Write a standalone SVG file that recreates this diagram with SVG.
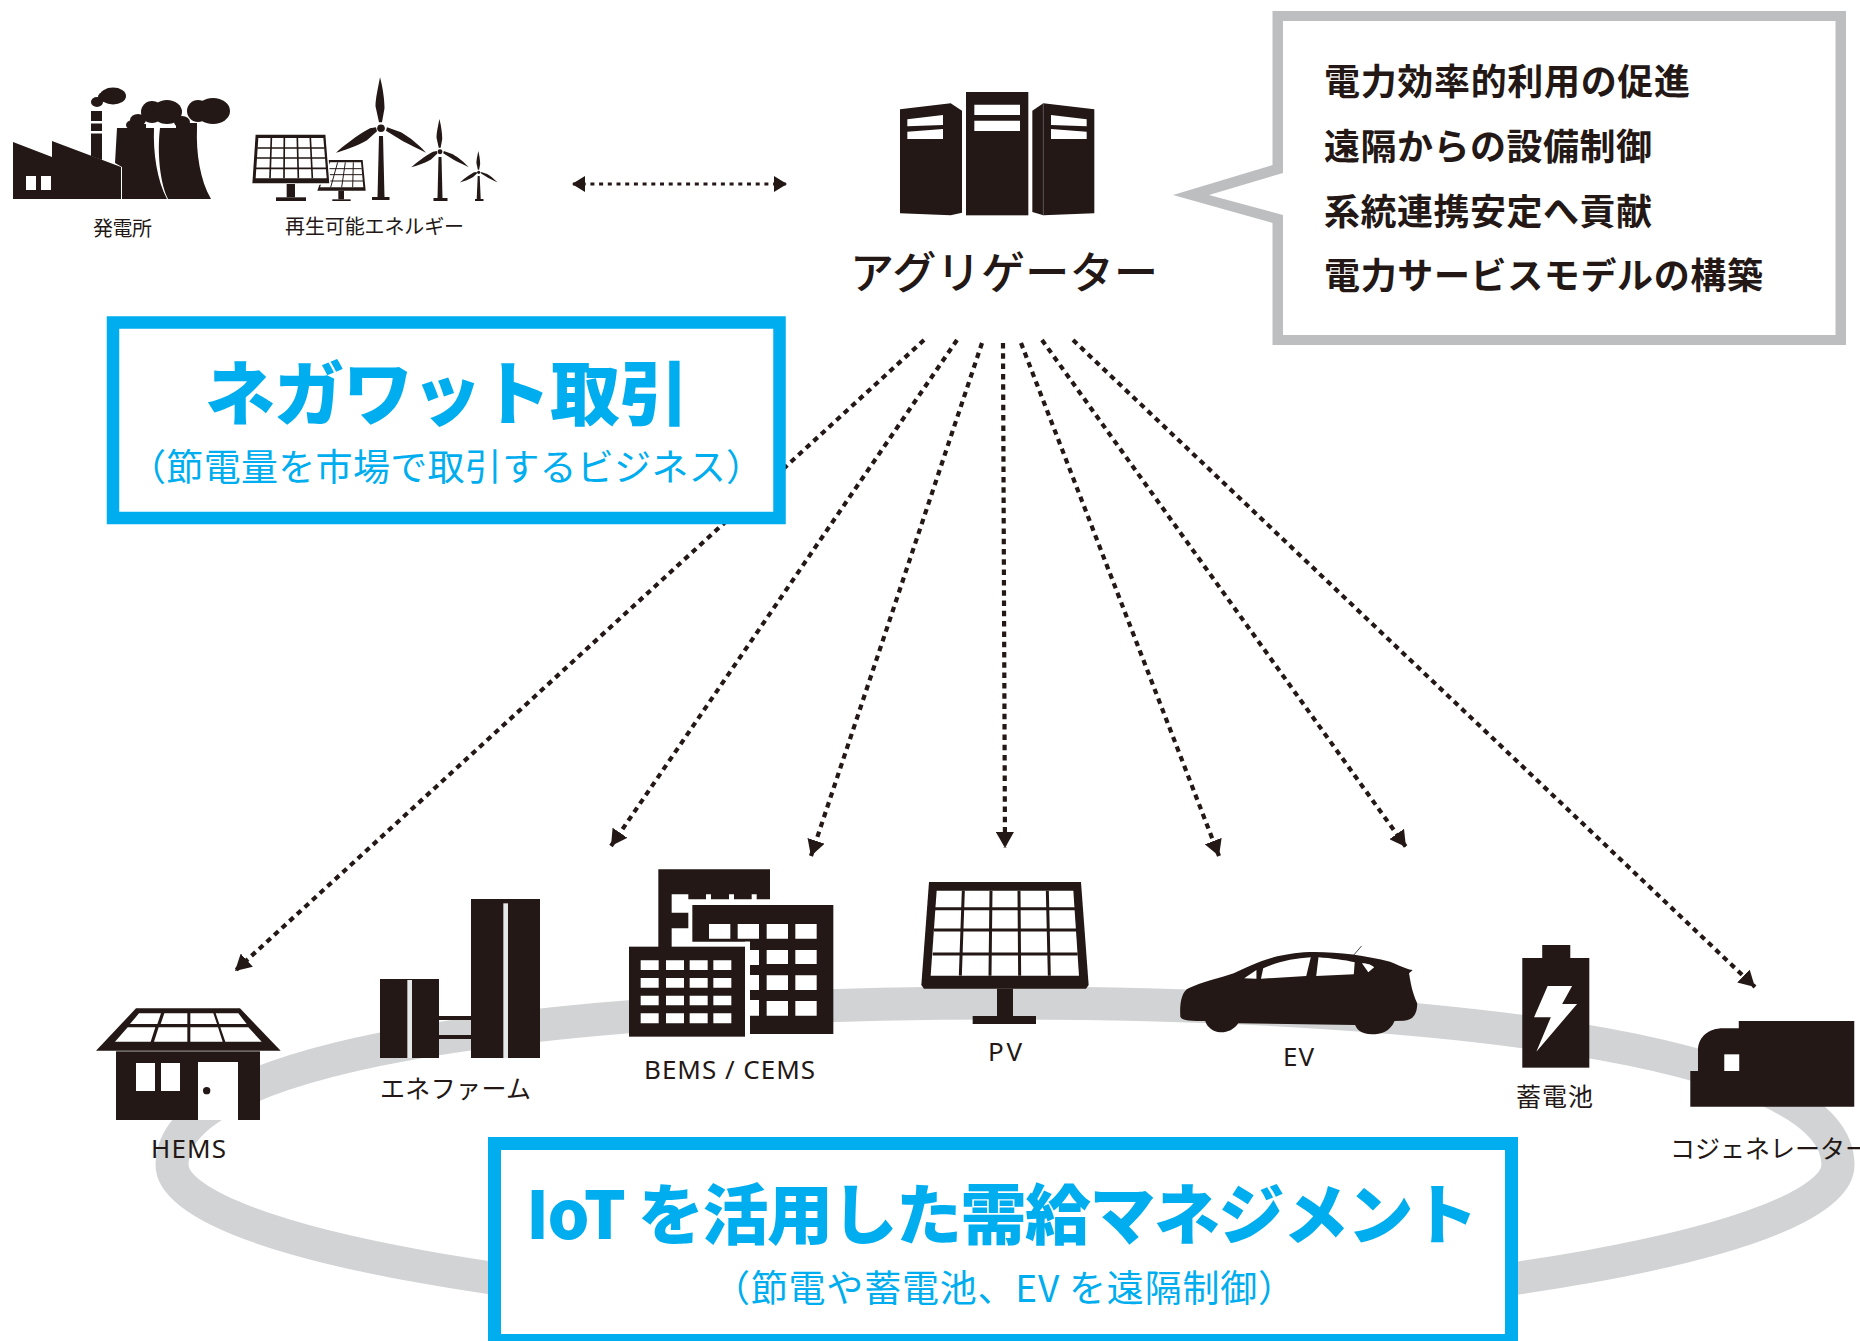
<svg xmlns="http://www.w3.org/2000/svg" xmlns:xlink="http://www.w3.org/1999/xlink" width="1860" height="1341" viewBox="0 0 1860 1341">
<style>
text{font-family:"Noto Sans CJK JP","Noto Sans",sans-serif;fill:#231815}
.lat{font-family:"Noto Sans","Noto Sans CJK JP",sans-serif;font-size:26px}
.lab{font-size:20px}
.lab2{font-size:25px}
.call{font-size:36px;font-weight:700}
.blue{fill:#00aeef}
.h1{font-size:70px;font-weight:900}
.h2{font-size:37px}
.d{fill:#231815}
.w{fill:#fff}
.conn{fill:none;stroke:#231815;stroke-width:4.2;stroke-dasharray:5.500 4.800;marker-end:url(#ah)}
.gl{fill:none;stroke:#231815}
.box{fill:#fff;stroke:#00aeef}
</style>
<defs>
<marker id="ah" markerUnits="userSpaceOnUse" markerWidth="16" markerHeight="18" viewBox="0 0 16 18" refX="16" refY="9" orient="auto"><path d="M0,0L16,9L0,18Z" fill="#231815"/></marker>
<marker id="ah2" markerUnits="userSpaceOnUse" markerWidth="13" markerHeight="16" viewBox="0 0 13 16" refX="13" refY="8" orient="auto-start-reverse"><path d="M0,0L13,8L0,16Z" fill="#231815"/></marker>
<g id="blades">
<path class="d" d="M-1,-51C2,-40 3.500,-28 3.500,-20L1,-6L-2,-6L-5.500,-22C-5.500,-30 -3,-40 -1,-51Z"/>
<path class="d" d="M-45,24.400C-38,18 -24,7 -11,0L-5,-1L-4,3L-14,12C-25,18 -36,22 -45,24.400Z"/>
<path class="d" d="M45,24.400C36,15 30,10 20,4L6,-1L5,2.500L22,13C30,17 38,21 45,24.400Z"/>
<circle r="3.800" class="d"/>
</g>
</defs>
<rect width="1860" height="1341" fill="#fff"/>
<path id="ring" fill="none" stroke="#d1d3d4" stroke-width="33" d="M1005,1003C600,1003 172,1045 172,1165C172,1240 560,1312 1005,1312C1450,1312 1838,1240 1838,1165C1838,1045 1410,1003 1005,1003Z"/>
<g id="connectors">
<path class="conn" d="M924,340L235,971"/>
<path class="conn" d="M957,340L611,846"/>
<path class="conn" d="M982,343L811,856"/>
<path class="conn" d="M1003,343L1005,848"/>
<path class="conn" d="M1021,343L1219,856"/>
<path class="conn" d="M1042,340L1406,847"/>
<path class="conn" d="M1073,340L1755,987"/>
<path d="M572,184L787,184" fill="none" stroke="#231815" stroke-width="3" stroke-dasharray="4 4.700" stroke-dashoffset="-1" marker-start="url(#ah2)" marker-end="url(#ah2)"/>
</g>
<g id="plant">
<path class="d" d="M13,142L52,157L52,141L121,167L121,199L13,199Z"/>
<rect class="w" x="26" y="176" width="10" height="14"/><rect class="w" x="41" y="176" width="10" height="14"/>
<path class="d" d="M91,111H102V160L91,156Z"/>
<rect class="w" x="91" y="121" width="11" height="2.500"/><rect class="w" x="91" y="131" width="11" height="2.500"/>
<path class="d" d="M117,128H154C153,153 157,180 167,199H122V167L115,163Z"/>
<path class="d" d="M160,128H197C196,153 200,180 211,199H168C160,183 157,153 160,128Z"/>
<ellipse class="d" cx="113" cy="96" rx="13" ry="8.500"/><ellipse class="d" cx="104" cy="97" rx="6" ry="5"/><ellipse class="d" cx="97" cy="102" rx="6" ry="5"/>
<ellipse class="d" cx="152" cy="112" rx="11" ry="11"/><ellipse class="d" cx="167" cy="112" rx="15" ry="12"/><ellipse class="d" cx="138" cy="120" rx="8" ry="6"/><ellipse class="d" cx="133" cy="125" rx="7" ry="5"/>
<rect class="d" x="128" y="124" width="18" height="5"/>
<ellipse class="d" cx="198" cy="111" rx="11" ry="11"/><ellipse class="d" cx="213" cy="111" rx="17" ry="13"/><ellipse class="d" cx="182" cy="122" rx="8" ry="6"/>
<rect class="d" x="176" y="123" width="21" height="6"/>
<text class="lab" x="93" y="236" textLength="59">発電所</text>
</g>
<g id="renewable">
<g transform="translate(0,60) scale(.33333)">
<path class="d" d="M985,300H1088L1097,392H952Z"/>
<path class="w" d="M990,307H1083L1090,382H960Z"/>
<path class="gl" stroke-width="3" d="M1013,307L992,382M1036,307L1025,382M1060,307L1058,382M970,326H1085M965,344H1087M962,363H1089"/>
<rect class="d" x="1015" y="392" width="17" height="26"/><rect class="d" x="997" y="418" width="55" height="5"/>
<path class="d" stroke="#fff" stroke-width="4" d="M765,222H978L990,372H755Z"/>
<path class="w" d="M775,234H970L980,355H767Z"/>
<path class="gl" stroke-width="5" d="M814,234L810,355M853,234L852,355M892,234L895,355M931,234L937,355M772,264H973M770,294H975M768,325H978"/>
<rect class="d" x="860" y="372" width="25" height="40"/><rect class="d" x="828" y="412" width="90" height="11"/>
</g>
<circle cx="381" cy="128.300" r="5.500" class="w"/>
<use xlink:href="#blades" href="#blades" transform="translate(381,128.300)"/>
<path class="d" d="M379,136H383L384.500,197H377.500Z"/><rect class="d" x="372" y="197" width="17.500" height="3"/>
<use xlink:href="#blades" href="#blades" transform="translate(440,151.700) scale(.64)"/>
<path class="d" d="M438.500,157H441.500L442.500,198H437.500Z"/><rect class="d" x="433.500" y="198" width="14" height="3"/>
<use xlink:href="#blades" href="#blades" transform="translate(478.700,172.300) scale(.42)"/>
<path class="d" d="M477.700,176H479.700L480.700,199H476.700Z"/><rect class="d" x="475" y="199" width="8.500" height="2"/>
<text class="lab" x="285" y="234" textLength="179">再生可能エネルギー</text>
</g>
<g id="aggregator">
<g transform="translate(860,60) scale(.33333)">
<path class="d" d="M120,148L272,130L306,152V458L272,466L120,460Z"/>
<path class="w" d="M142,178L249,165V195L142,199ZM142,215L249,207V237H142Z"/>
<rect class="d" x="318" y="96" width="187" height="370"/>
<path class="w" d="M343,134H480V165H343ZM343,182H480V213H343Z"/>
<path class="d" d="M517,152L550,130L703,148V460L550,466L517,456Z"/>
<path class="w" d="M573,165L680,178V199L573,195ZM573,207L680,215V237H573Z"/>
<path d="M550,130V466" stroke="#777" stroke-width="2" fill="none"/>
</g>
<text x="850" y="289" font-size="44" font-weight="500" textLength="308">アグリゲーター</text>
</g>
<g id="callout">
<path d="M1272.500,11H1846V345H1272.500V223L1173,195L1272.500,165Z" fill="#bcbec0"/>
<path class="w" d="M1283,21H1835.500V335H1283V215L1209,195L1283,173Z"/>
<text class="call" x="1324" y="95" textLength="366">電力効率的利用の促進</text>
<text class="call" x="1324" y="160" textLength="328">遠隔からの設備制御</text>
<text class="call" x="1324" y="225" textLength="328">系統連携安定へ貢献</text>
<text class="call" x="1324" y="289" textLength="439">電力サービスモデルの構築</text>
</g>
<g id="negawatt">
<rect class="box" stroke-width="12.500" x="113" y="322.500" width="666.500" height="195.500"/>
<text class="blue h1" x="205" y="420" textLength="484">ネガワット取引</text>
<text class="blue h2" x="129" y="481" textLength="634">（節電量を市場で取引するビジネス）</text>
</g>
<g id="hems" transform="translate(80,880) scale(.33333)">
<path class="d" d="M168,385H480L602,512H48Z"/>
<path class="w" d="M177,400H243L232,432H150ZM253,400H322V432H242ZM331,400H400L411,432H331ZM407,400H475L500,432H418ZM143,442H226L212,485H105ZM236,442H322V485H222ZM331,442H414L428,485H331ZM421,442H505L545,485H436Z"/>
<rect class="d" x="108" y="514" width="432" height="206"/>
<rect class="w" x="354" y="546" width="120" height="174"/>
<rect class="w" x="168" y="549" width="57" height="84"/><rect class="w" x="243" y="549" width="57" height="84"/>
<circle class="d" cx="380" cy="632" r="11"/>
</g>
<text class="lat" x="151" y="1158" textLength="75">HEMS</text>
<g id="enefarm">
<g transform="translate(80,880) scale(.33333)">
<rect class="d" x="900" y="297" width="177" height="237"/>
<rect x="982" y="300" width="14" height="234" fill="#e6e7e8"/>
<rect class="d" x="1077" y="408" width="96" height="12"/><rect class="d" x="1077" y="465" width="96" height="12"/>
<rect class="d" x="1173" y="57" width="207" height="477"/>
<rect x="1270" y="70" width="14" height="464" fill="#e6e7e8"/>
</g>
<text class="lab2" x="380" y="1098" textLength="151">エネファーム</text>
</g>
<g id="bems">
<g transform="translate(600,850) scale(.33333)">
<path class="d" d="M175,58H510V148H470V133H455V148H402V133H387V148H333V133H318V148H265V133H215V188H265V235H215V292H175Z"/>
<path class="d" d="M277,165H700V552H450V275H277Z"/>
<path class="w" d="M327,222H391V266H327ZM413,222H477V266H413ZM500,222H564V266H500ZM586,222H650V266H586ZM500,300H564V342H500ZM586,300H650V342H586ZM500,376H564V420H500ZM586,376H650V420H586ZM500,453H564V497H500ZM586,453H650V497H586ZM450,300H477V345H450ZM450,375H477V420H450ZM450,450H477V497H450Z"/>
<rect class="w" x="435" y="275" width="15" height="285"/>
<rect class="d" x="87" y="290" width="348" height="270"/>
<path class="w" d="M122,331H176V360H122ZM198,331H252V360H198ZM269,331H323V360H269ZM340,331H394V360H340ZM122,384H176V413H122ZM198,384H252V413H198ZM269,384H323V413H269ZM340,384H394V413H340ZM122,437H176V466H122ZM198,437H252V466H198ZM269,437H323V466H269ZM340,437H394V466H340ZM122,490H176V520H122ZM198,490H252V520H198ZM269,490H323V520H269ZM340,490H394V520H340Z"/>
</g>
<text class="lat" x="644" y="1079" textLength="171">BEMS / CEMS</text>
</g>
<g id="pv">
<g transform="translate(600,850) scale(.33333)">
<path class="d" d="M987,96H1443L1466,405L1458,416H972L964,405Z"/>
<path class="w" d="M1010,122H1420L1437,377H992Z"/>
<path class="gl" stroke-width="9" d="M1090,122L1081,377M1173,122L1170,377M1257,122L1259,377M1342,122L1348,377M1005,176H1425M1002,240H1430M998,312H1433"/>
<rect class="d" x="1191" y="416" width="48" height="82"/><rect class="d" x="1118" y="498" width="190" height="24"/>
</g>
<text class="lat" x="988" y="1061" textLength="34">PV</text>
</g>
<g id="ev">
<g transform="translate(1150,920) scale(.4529,.33333)">
<path d="M450,105L467,78" stroke="#231815" stroke-width="2" fill="none"/>
<path class="d" d="M67,290C65,250 70,215 85,205C110,188 160,172 185,160C225,135 265,105 340,97C400,93 470,105 530,125C550,135 560,145 580,150L572,160C575,185 578,215 590,250C590,285 580,300 560,302L540,303C530,335 510,343 490,343C465,343 455,325 453,315L195,310C185,330 170,338 155,337C140,337 125,320 122,303C95,303 70,303 67,290Z"/>
<path class="w" d="M208,175L235,150V176ZM245,176L250,145C280,125 320,115 355,112L345,168ZM372,112C400,115 430,120 452,127L450,163L367,168ZM468,130C480,130 490,135 495,142L482,157Z"/>
</g>
<text class="lat" x="1283" y="1066" textLength="31">EV</text>
</g>
<g id="battery">
<g transform="translate(1150,920) scale(.4529,.33333)">
<rect class="d" x="866" y="75" width="62" height="40"/><rect class="d" x="822" y="114" width="148" height="329"/>
<path class="w" d="M878,198H932L910,252H943L853,395L885,292H848Z"/>
</g>
<text class="lab2" x="1516" y="1106" textLength="77">蓄電池</text>
</g>
<g id="cogen">
<g transform="translate(1150,920) scale(.4529,.33333)">
<path class="d" d="M1300,303H1555V560H1193V453H1210V390C1210,350 1235,325 1265,325H1300Z"/>
<rect class="w" x="1268" y="403" width="33" height="50"/>
</g>
<text class="lab2" x="1670" y="1158">コジェネレーター</text>
</g>
<g id="iot">
<rect class="box" stroke-width="13" x="494.500" y="1143.500" width="1017" height="197"/>
<text class="blue" x="526" y="1239" font-size="66" font-weight="900" textLength="952">IoT を活用した需給マネジメント</text>
<text class="blue h2" x="713" y="1302" textLength="582">（節電や蓄電池、EV を遠隔制御）</text>
</g>
</svg>
